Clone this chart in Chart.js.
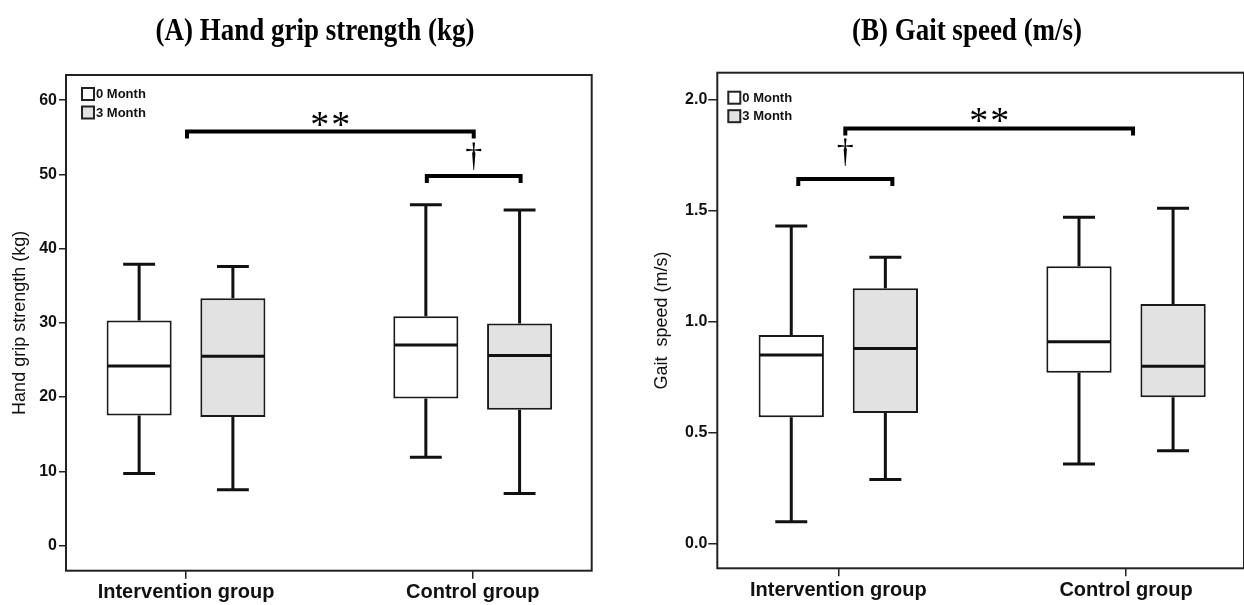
<!DOCTYPE html>
<html>
<head>
<meta charset="utf-8">
<script src="https://cdn.jsdelivr.net/npm/chart.js@4.4.0/dist/chart.umd.min.js"></script>
<style>
    body { margin: 0; background: #fff; width: 1244px; height: 605px; overflow: hidden; }
    .panel { position: absolute; top: 0; width: 622px; height: 605px; }
    #gripWrap { left: 0; }
    #gaitWrap { left: 622px; }
</style>
</head>
<body>
<div class="panel" id="gripWrap"><canvas id="grip" width="622" height="605"></canvas></div>
<div class="panel" id="gaitWrap"><canvas id="gait" width="622" height="605"></canvas></div>
<script>
const groups = ['Intervention group', 'Control group'];
const seriesNames = ['0 Month', '3 Month'];

// (A) hand grip strength (kg): whisker ends, quartiles, median per group
const gripMin0 = [9.7, 11.9];
const gripQ1_0 = [17.5, 19.8];
const gripMed0 = [24.2, 27.0];
const gripQ3_0 = [30.3, 30.9];
const gripMax0 = [37.9, 45.9];
const gripMin3 = [7.5, 7.0];
const gripQ1_3 = [17.3, 18.3];
const gripMed3 = [25.5, 25.6];
const gripQ3_3 = [33.3, 29.9];
const gripMax3 = [37.6, 45.2];
const gripTicks = [0, 10, 20, 30, 40, 50, 60];

// (B) gait speed (m/s)
const gaitMin0 = [0.10, 0.36];
const gaitQ1_0 = [0.57, 0.77];
const gaitMed0 = [0.85, 0.91];
const gaitQ3_0 = [0.94, 1.25];
const gaitMax0 = [1.43, 1.47];
const gaitMin3 = [0.29, 0.42];
const gaitQ1_3 = [0.59, 0.66];
const gaitMed3 = [0.88, 0.80];
const gaitQ3_3 = [1.15, 1.08];
const gaitMax3 = [1.29, 1.51];
const gaitTicks = [0.0, 0.5, 1.0, 1.5, 2.0];

// significance marks: label, bracket height (axis units), group (null = between groups)
const gripSigLabels = ['**', '\u2020'];
const gripSigLevels = [55.8, 49.8];
const gripSigGroups = [null, 1];
const gaitSigLabels = ['**', '\u2020'];
const gaitSigLevels = [1.869, 1.642];
const gaitSigGroups = [null, 0];

const SANS = '"Liberation Sans", Arial, sans-serif';
const SERIF = '"Liberation Serif", "Times New Roman", serif';

const boxWhiskers = {
    id: 'boxWhiskers',
    afterDatasetsDraw(chart) {
        const ctx = chart.ctx;
        const y = chart.scales.y;
        chart.data.datasets.forEach((ds, di) => {
            chart.getDatasetMeta(di).data.forEach((bar, i) => {
                const half = bar.width / 2;
                const cap = bar.width * 0.245;
                const top = y.getPixelForValue(ds.hi[i]);
                const bottom = y.getPixelForValue(ds.lo[i]);
                const q3 = y.getPixelForValue(ds.data[i].y[1]);
                const q1 = y.getPixelForValue(ds.data[i].y[0]);
                const med = y.getPixelForValue(ds.med[i]);
                ctx.save();
                ctx.strokeStyle = '#111';
                ctx.lineWidth = 3;
                ctx.beginPath();
                ctx.moveTo(bar.x, q3); ctx.lineTo(bar.x, top);
                ctx.moveTo(bar.x - cap, top); ctx.lineTo(bar.x + cap, top);
                ctx.moveTo(bar.x, q1); ctx.lineTo(bar.x, bottom);
                ctx.moveTo(bar.x - cap, bottom); ctx.lineTo(bar.x + cap, bottom);
                ctx.stroke();
                ctx.beginPath();
                ctx.moveTo(bar.x - half + 1, med); ctx.lineTo(bar.x + half - 1, med);
                ctx.stroke();
                ctx.restore();
            });
        });
    }
};

const sigBrackets = {
    id: 'sigBrackets',
    afterDatasetsDraw(chart, args, opts) {
        const ctx = chart.ctx;
        const x = chart.scales.x;
        const y = chart.scales.y;
        opts.labels.forEach((label, k) => {
            const g = opts.groups[k];
            let x1, x2;
            if (g === null) {
                x1 = x.getPixelForValue(0);
                x2 = x.getPixelForValue(groups.length - 1);
            } else {
                x1 = chart.getDatasetMeta(0).data[g].x;
                x2 = chart.getDatasetMeta(1).data[g].x;
            }
            x1 += opts.shift;
            x2 += opts.shift;
            const yy = y.getPixelForValue(opts.levels[k]);
            ctx.save();
            ctx.strokeStyle = '#000';
            ctx.lineWidth = 4;
            ctx.lineJoin = 'miter';
            ctx.beginPath();
            ctx.moveTo(x1, yy + 7); ctx.lineTo(x1, yy); ctx.lineTo(x2, yy); ctx.lineTo(x2, yy + 7);
            ctx.stroke();
            ctx.fillStyle = '#000';
            ctx.font = (g === null ? 38 : 34) + 'px ' + SERIF;
            ctx.letterSpacing = g === null ? '2px' : '0px';
            ctx.textAlign = 'center';
            ctx.textBaseline = 'alphabetic';
            const m = ctx.measureText(label);
            const cy = yy - opts.gaps[k];
            ctx.fillText(label, (x1 + x2) / 2 + (g === null ? 1 : 0), cy + (m.actualBoundingBoxAscent - m.actualBoundingBoxDescent) / 2);
            ctx.restore();
        });
    }
};

const boxLegend = {
    id: 'boxLegend',
    afterDraw(chart, args, opts) {
        const { ctx, chartArea } = chart;
        ctx.save();
        ctx.font = 'bold 13px ' + SANS;
        ctx.textBaseline = 'middle';
        chart.data.datasets.forEach((ds, i) => {
            const x = chartArea.left + opts.x;
            const cy = chartArea.top + opts.y + i * 18.5;
            ctx.fillStyle = ds.backgroundColor;
            ctx.fillRect(x, cy - 6, 12, 12);
            ctx.lineWidth = 2;
            ctx.strokeStyle = '#222';
            ctx.strokeRect(x, cy - 6, 12, 12);
            ctx.fillStyle = '#111';
            ctx.fillText(ds.label, x + 14, cy + 0.5);
        });
        ctx.restore();
    }
};

const panelFrame = {
    id: 'panelFrame',
    afterDraw(chart) {
        const { ctx, chartArea: a } = chart;
        ctx.save();
        ctx.strokeStyle = '#222';
        ctx.lineWidth = 2;
        ctx.strokeRect(a.left, a.top, a.right - a.left, a.bottom - a.top);
        ctx.restore();
    }
};

const panelTitle = {
    id: 'panelTitle',
    afterDraw(chart, args, opts) {
        const ctx = chart.ctx;
        ctx.save();
        ctx.fillStyle = '#000';
        ctx.font = 'bold 27px ' + SERIF;
        ctx.textAlign = 'center';
        ctx.textBaseline = 'alphabetic';
        ctx.translate(opts.x, opts.y);
        ctx.scale(1, 1.15);
        ctx.fillText(opts.text, 0, 0);
        ctx.restore();
    }
};

function boxSet(label, fill, q1, q3, lo, hi, med) {
    return {
        label: label,
        backgroundColor: fill,
        borderColor: '#1a1a1a',
        borderWidth: 2,
        borderSkipped: false,
        categoryPercentage: 0.654,
        barPercentage: 0.694,
        data: q1.map((v, i) => ({ x: i, y: [v, q3[i]] })),
        lo: lo,
        hi: hi,
        med: med
    };
}

function makeChart(id, cfg) {
    return new Chart(document.getElementById(id), {
        type: 'bar',
        data: {
            datasets: [
                boxSet(seriesNames[0], '#ffffff', cfg.q1[0], cfg.q3[0], cfg.lo[0], cfg.hi[0], cfg.med[0]),
                boxSet(seriesNames[1], '#e2e2e2', cfg.q1[1], cfg.q3[1], cfg.lo[1], cfg.hi[1], cfg.med[1])
            ]
        },
        options: {
            responsive: false,
            animation: false,
            devicePixelRatio: 1,
            layout: { padding: { top: cfg.top, right: cfg.right, left: 0, bottom: 0 } },
            scales: {
                x: {
                    type: 'linear',
                    min: cfg.xMin,
                    max: cfg.xMax,
                    offset: false,
                    afterBuildTicks: s => { s.ticks = groups.map((g, i) => ({ value: i })); },
                    afterFit: s => { s.height = cfg.xHeight; },
                    border: { display: false },
                    grid: { offset: false, drawOnChartArea: false, tickLength: 8, color: '#222', lineWidth: 1.5 },
                    ticks: {
                        autoSkip: false,
                        maxRotation: 0,
                        padding: 2,
                        color: '#111',
                        font: { family: SANS, size: 20, weight: 'bold' },
                        callback: v => groups[v]
                    }
                },
                y: {
                    min: cfg.yMin,
                    max: cfg.yMax,
                    afterBuildTicks: s => { s.ticks = cfg.ticks.map(v => ({ value: v })); },
                    afterFit: s => { s.width = cfg.yWidth; },
                    border: { display: false },
                    grid: { drawOnChartArea: false, tickLength: cfg.yTickLength, color: '#222', lineWidth: 1.5 },
                    ticks: {
                        padding: cfg.yTickPad,
                        color: '#111',
                        font: { family: SANS, size: 16, weight: 'bold' },
                        callback: v => cfg.format(v)
                    },
                    title: {
                        display: true,
                        text: cfg.yTitle,
                        color: '#111',
                        font: { family: SANS, size: 18 },
                        padding: { top: cfg.yTitlePad, bottom: 0 }
                    }
                }
            },
            plugins: {
                legend: { display: false },
                tooltip: { enabled: false },
                boxLegend: cfg.legend,
                sigBrackets: cfg.sig,
                panelTitle: cfg.title
            }
        },
        plugins: [boxWhiskers, sigBrackets, boxLegend, panelFrame, panelTitle]
    });
}

makeChart('grip', {
    q1: [gripQ1_0, gripQ1_3], q3: [gripQ3_0, gripQ3_3],
    lo: [gripMin0, gripMin3], hi: [gripMax0, gripMax3], med: [gripMed0, gripMed3],
    ticks: gripTicks, format: v => String(v),
    yMin: -3.4, yMax: 63.4, xMin: -0.4186, xMax: 1.415,
    top: 75, right: 30.3, xHeight: 34.3, yWidth: 66,
    yTickLength: 7, yTickPad: 2, yTitlePad: 9.2,
    yTitle: 'Hand grip strength (kg)',
    legend: { x: 16, y: 19 },
    sig: { labels: gripSigLabels, levels: gripSigLevels, groups: gripSigGroups, shift: 1, gaps: [11.5, 19.5] },
    title: { text: '(A) Hand grip strength (kg)', x: 315, y: 40 }
});

makeChart('gait', {
    q1: [gaitQ1_0, gaitQ1_3], q3: [gaitQ3_0, gaitQ3_3],
    lo: [gaitMin0, gaitMin3], hi: [gaitMax0, gaitMax3], med: [gaitMed0, gaitMed3],
    ticks: gaitTicks, format: v => v.toFixed(1),
    yMin: -0.109, yMax: 2.12, xMin: -0.4206, xMax: 1.41,
    top: 72.7, right: 0, xHeight: 36.7, yWidth: 95.3,
    yTickLength: 9, yTickPad: 1, yTitlePad: 28.9,
    yTitle: 'Gait  speed (m/s)',
    legend: { x: 11, y: 25 },
    sig: { labels: gaitSigLabels, levels: gaitSigLevels, groups: gaitSigGroups, shift: 7, gaps: [12.7, 27] },
    title: { text: '(B) Gait speed (m/s)', x: 345, y: 40 }
});
</script>
</body>
</html>
